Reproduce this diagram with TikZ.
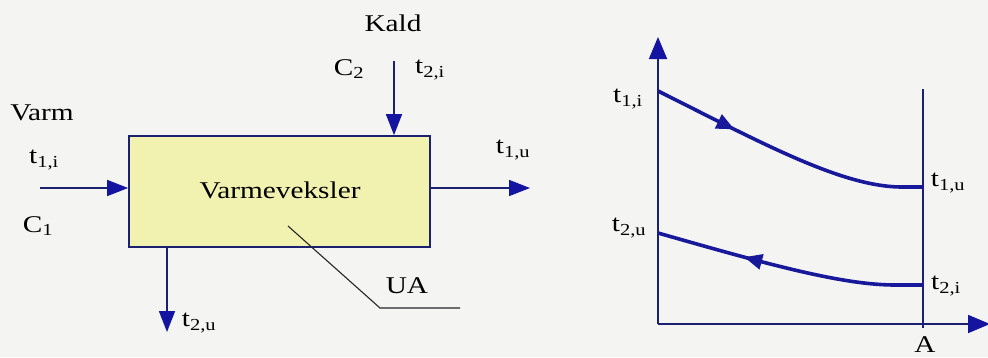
\documentclass[tikz,border=0pt]{standalone}
\usepackage{fontspec}
\setmainfont[FakeStretch=1.22]{Liberation Serif}
\usetikzlibrary{arrows.meta,decorations.markings}
\definecolor{navy}{HTML}{1C2070}
\definecolor{tip}{HTML}{1414A0}
\definecolor{curve}{HTML}{18189A}
\definecolor{boxfill}{HTML}{F2F2B0}
\definecolor{bg}{HTML}{F4F4F2}
\begin{document}
\begin{tikzpicture}[x=1pt,y=-1pt,
  lbl/.style={inner sep=0pt,font=\fontsize{24}{24}\selectfont},
  flow/.style={draw=navy,line width=1.6pt,-{Triangle[length=21pt,width=16pt,fill=tip,color=tip]}},
  ax/.style={draw=navy,line width=1.8pt},
  crv/.style={draw=curve,line width=3.6pt}]
\fill[bg] (0,0) rectangle (988,357);
\useasboundingbox (0,0) rectangle (988,357);
% heat exchanger
\node[draw=navy,line width=1.8pt,fill=boxfill,minimum width=301pt,minimum height=111pt,inner sep=0pt] (box) at (279.5,191.5) {};
\node[lbl] (vv) at (280,190) {Varmeveksler};
\coordinate (inL) at (40,188);
\coordinate (outR) at (530,188);
\coordinate (inT) at (394,61);
\coordinate (outB) at (167,332);
\draw[flow] (inL) -- (inL -| box.west);
\draw[flow] (box.east |- inL) -- (outR);
\draw[flow] (inT) -- (inT |- box.north);
\draw[flow] (outB |- box.south) -- (outB);
\coordinate (ua0) at (288,226);
\coordinate (ua1) at (380,308);
\coordinate (ua2) at (460,308);
\draw[black!85,line width=1.1pt] (ua0) -- (ua1) -- (ua2);
\node[lbl] (kald) at (393,23) {Kald};
\node[lbl] (c2) at (349,69) {C\textsubscript{2}};
\node[lbl] (t2i) at (430,70) {t\textsubscript{2,i}};
\node[lbl] (varm) at (42,113) {Varm};
\node[lbl] (t1i) at (44,160) {t\textsubscript{1,i}};
\node[lbl] (c1) at (38,226) {C\textsubscript{1}};
\node[lbl] (t1u) at (513,150) {t\textsubscript{1,u}};
\node[lbl] (ua) at (407,286) {UA};
\node[lbl] (t2u) at (199,323) {t\textsubscript{2,u}};
% diagram
\coordinate (O) at (658,324);
\coordinate (ytop) at (658,37);
\coordinate (xend) at (990,324);
\draw[ax,-{Triangle[length=22pt,width=18pt,fill=tip,color=tip]}] (O) -- (ytop);
\draw[ax,-{Triangle[length=22pt,width=18pt,fill=tip,color=tip]}] (O) -- (xend);
\coordinate (Atop) at (923,89);
\coordinate (Abot) at (923,328);
\draw[ax] (Atop) -- (Abot);
\coordinate (u0) at (658,91);
\coordinate (u1) at (900,187);
\coordinate (u2) at (923,187);
\coordinate (l0) at (658,233);
\coordinate (l1) at (895,285);
\coordinate (l2) at (923,285);
\draw[crv,postaction={decorate},decoration={markings,mark=at position 0.3 with {\arrow{Triangle[length=18pt,width=15pt]}}}]
  (u0) .. controls (760,142) and (840,186) .. (u1) -- (u2);
\draw[crv,postaction={decorate},decoration={markings,mark=at position 0.33 with {\arrowreversed{Triangle[length=18pt,width=15pt]}}}]
  (l0) .. controls (760,262) and (840,285) .. (l1) -- (l2);
\node[lbl] (pt1i) at (628,99) {t\textsubscript{1,i}};
\node[lbl] (pt1u) at (948,183) {t\textsubscript{1,u}};
\node[lbl] (pt2u) at (629,228) {t\textsubscript{2,u}};
\node[lbl] (pt2i) at (946,286) {t\textsubscript{2,i}};
\node[lbl] (pA) at (925,345) {A};
\end{tikzpicture}
\end{document}
